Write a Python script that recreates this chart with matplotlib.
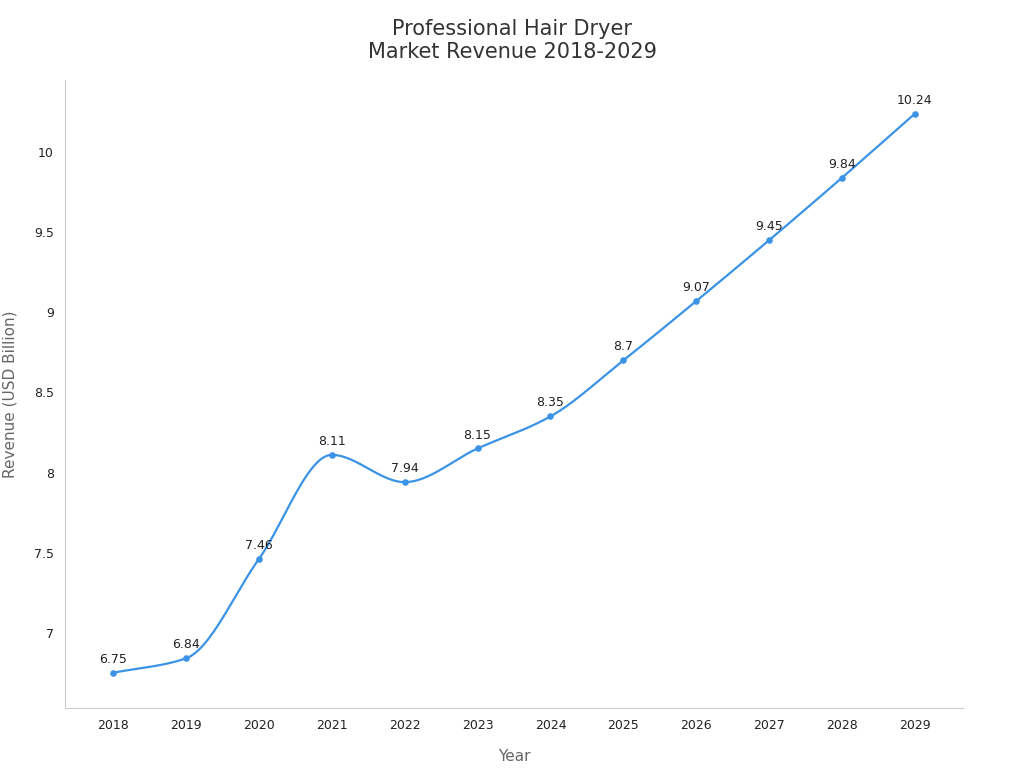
import numpy as np
import matplotlib
matplotlib.use("Agg")
import matplotlib.pyplot as plt

years = [2018, 2019, 2020, 2021, 2022, 2023, 2024, 2025, 2026, 2027, 2028, 2029]
revenue = [6.75, 6.84, 7.46, 8.11, 7.94, 8.15, 8.35, 8.7, 9.07, 9.45, 9.84, 10.24]
labels = ["6.75", "6.84", "7.46", "8.11", "7.94", "8.15", "8.35", "8.7", "9.07", "9.45", "9.84", "10.24"]

LINE = "#3b93e6"


def smooth(x, y, n=30):
    # monotone cubic (Fritsch-Carlson) curve through the points
    x = np.asarray(x, float)
    y = np.asarray(y, float)
    h = np.diff(x)
    d = np.diff(y) / h
    m = np.zeros_like(y)
    m[0], m[-1] = d[0], d[-1]
    for i in range(1, len(y) - 1):
        if d[i - 1] * d[i] <= 0:
            m[i] = 0
        else:
            m[i] = 2 / (1 / d[i - 1] + 1 / d[i])
    xs, ys = [], []
    for i in range(len(x) - 1):
        t = np.linspace(0, 1, n)
        h00 = 2 * t**3 - 3 * t**2 + 1
        h10 = t**3 - 2 * t**2 + t
        h01 = -2 * t**3 + 3 * t**2
        h11 = t**3 - t**2
        xs.append(x[i] + t * h[i])
        ys.append(h00 * y[i] + h10 * h[i] * m[i] + h01 * y[i + 1] + h11 * h[i] * m[i + 1])
    return np.concatenate(xs), np.concatenate(ys)


fig = plt.figure(figsize=(10.24, 7.68), dpi=100)
ax = fig.add_axes([65 / 1024, 60 / 768, 898 / 1024, 628 / 768])

sx, sy = smooth(years, revenue)
ax.plot(sx, sy, color=LINE, lw=1.6)
ax.scatter(years, revenue, color=LINE, s=14, zorder=3)
for x, y, t in zip(years, revenue, labels):
    ax.annotate(t, (x, y), xytext=(0, 5), textcoords="offset points",
                ha="center", va="bottom", fontsize=9, color="#222222")

ax.set_xlim(2017.34, 2029.66)
ax.set_ylim(6.53, 10.45)
ax.set_xticks(years)
ax.set_yticks([7, 7.5, 8, 8.5, 9, 9.5, 10])
ax.set_yticklabels(["7", "7.5", "8", "8.5", "9", "9.5", "10"])
ax.tick_params(length=0, labelsize=9, colors="#222222", pad=8)
for s in ["top", "right"]:
    ax.spines[s].set_visible(False)
for s in ["left", "bottom"]:
    ax.spines[s].set_color("#cccccc")

ax.set_xlabel("Year", fontsize=11, color="#666666", labelpad=12)
ax.set_ylabel("Revenue (USD Billion)", fontsize=11, color="#666666", labelpad=12)
fig.suptitle("Professional Hair Dryer\nMarket Revenue 2018-2029", fontsize=15,
             color="#333333", y=0.975)

fig.savefig("out.png", dpi=100)
